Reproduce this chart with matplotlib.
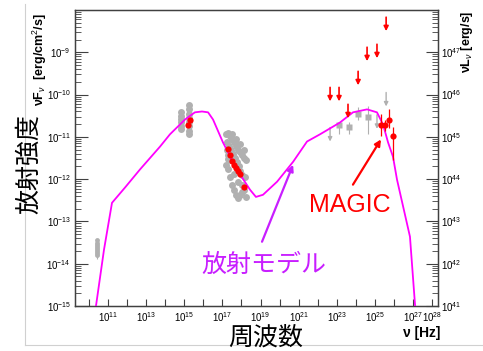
import numpy as np
import matplotlib
matplotlib.use('Agg')
import matplotlib.pyplot as plt
from matplotlib.lines import Line2D

plt.rcParams['font.family'] = ['Liberation Sans', 'Noto Sans CJK JP', 'DejaVu Sans']
plt.rcParams['mathtext.fontset'] = 'custom'
plt.rcParams['mathtext.rm'] = 'Liberation Sans'
plt.rcParams['mathtext.it'] = 'Liberation Sans:italic'
plt.rcParams['mathtext.bf'] = 'Liberation Sans:bold'

# モデル曲線 (log10 nu, log10 nuFnu)
model_lognu = [10.37, 10.79, 11.21, 11.89, 12.68, 13.73, 14.25, 15.04, 15.56, 15.93, 16.25,
               16.51, 17.03, 17.77, 18.45, 18.76, 19.13, 19.87, 20.71, 21.44, 22.12, 23.17,
               23.85, 24.59, 25.11, 25.43, 25.69, 25.95, 26.16, 26.84, 27.11]
model_logF = [-15.0, -13.67, -12.56, -12.20, -11.77, -11.23, -10.94, -10.59, -10.42, -10.40, -10.42,
              -10.59, -11.13, -11.78, -12.25, -12.42, -12.37, -12.06, -11.59, -11.11, -10.94, -10.66,
              -10.42, -10.35, -10.42, -10.71, -11.13, -11.47, -12.01, -13.36, -15.0]

# 灰色の過去データ
radio_lognu = [10.42] * 8
radio_logF = [-13.45, -13.5, -13.55, -13.6, -13.65, -13.7, -13.75, -13.8]
opt_gray_lognu = [14.83] * 6 + [15.25] * 8
opt_gray_logF = [-10.42, -10.5, -10.58, -10.66, -10.74, -10.82,
                 -10.25, -10.35, -10.45, -10.55, -10.65, -10.75, -10.85, -10.93]
xray_gray_lognu = [17.19, 17.30, 17.40, 17.51, 17.61, 17.72, 17.82, 17.93, 18.03, 18.14, 18.24,
                   18.14, 17.93, 17.72, 17.51, 17.19, 17.30, 17.40, 17.51, 17.61, 17.72, 17.82,
                   17.93, 18.03, 18.14, 18.24, 17.40, 17.61, 17.82, 18.03, 17.30, 17.72,
                   17.25, 17.35, 17.45, 17.55, 17.65, 17.75, 17.85, 17.95, 18.05, 18.2, 17.22, 17.28]
xray_gray_logF = [-10.94, -10.90, -10.99, -11.06, -11.13, -11.21, -11.30, -11.35, -11.42, -11.49, -11.54,
                  -11.30, -11.18, -11.06, -10.94, -11.66, -11.77, -11.96, -12.13, -12.25, -12.37, -12.44,
                  -12.37, -12.30, -12.25, -12.42, -11.54, -11.89, -12.06, -12.13, -11.42, -11.66,
                  -11.12, -11.22, -11.32, -11.4, -11.5, -11.6, -11.7, -11.8, -11.9, -11.95, -11.3, -11.52]
fermi_lognu = [23.12, 23.64, 24.12, 24.64]
fermi_logF = [-10.73, -10.76, -10.45, -10.54]
fermi_err_up = [0.09, 0.12, 0.15, 0.26]
fermi_err_dn = [0.21, 0.18, 0.14, 0.40]
fermi_ul_lognu = [22.65, 25.11, 25.59]
fermi_ul_logF = [-10.78, -10.48, -9.95]

# 赤: 同時観測データ
opt_red_lognu = [15.30, 15.20]
opt_red_logF = [-10.59, -10.73]
xray_red_lognu = [17.30, 17.40, 17.51, 17.61, 17.72, 17.82, 17.93, 18.14]
xray_red_logF = [-11.28, -11.44, -11.56, -11.66, -11.73, -11.80, -11.87, -12.18]
ul_red_lognu = [22.65, 23.12, 23.59, 24.12, 24.59, 25.11, 25.59]
ul_red_logF = [-9.83, -9.83, -10.23, -9.45, -8.88, -8.81, -8.17]
magic_lognu = [25.32, 25.53, 25.74, 25.95]
magic_logF = [-10.71, -10.73, -10.61, -10.99]
magic_err_up = [0.24, 0.14, 0.26, 0.23]
magic_err_dn = [0.28, 0.14, 0.17, 0.55]

xtick_exp = list(range(10, 29))
xlabel_exp = [11, 13, 15, 17, 19, 21, 23, 25, 27, 28]
ytick_exp = list(range(-15, -8))
rtick_exp = list(range(41, 48))

gray = '#b0b0b0'
red = '#ff0000'
magenta = '#ff00ff'
purple = '#c81eff'

p = lambda a: 10 ** np.array(a, dtype=float)

fig = plt.figure(figsize=(4.83, 3.51), dpi=100)
ax = fig.add_axes([0.1553, 0.1282, 0.7515, 0.8433])
ax.set_xscale('log')
ax.set_yscale('log')
ax.set_xlim(10 ** 9.27, 10 ** 28.31)
ax.set_ylim(1e-15, 1e-8)

# 灰色データ
ax.plot(p(radio_lognu), p(radio_logF), 'o', color=gray, ms=3.5, mec='none')
ax.errorbar(p(radio_lognu[:1]), p([-13.6]), yerr=[[p(-13.6) - p(-13.9)], [0]], fmt='none',
            ecolor=gray, lw=0.8)
ax.plot(p(opt_gray_lognu), p(opt_gray_logF), 'o', color=gray, ms=5, mec='none')
ax.plot(p(xray_gray_lognu), p(xray_gray_logF), 'o', color=gray, ms=5, mec='none')
fy = p(fermi_logF)
ax.errorbar(p(fermi_lognu), fy,
            yerr=[fy - p(np.array(fermi_logF) - np.array(fermi_err_dn)),
                  p(np.array(fermi_logF) + np.array(fermi_err_up)) - fy],
            fmt='s', color=gray, ms=4, mec='none', ecolor=gray, elinewidth=0.8)
for lx, ly in zip(fermi_ul_lognu, fermi_ul_logF):
    ax.annotate('', xy=(p(lx), p(ly - 0.33)), xytext=(p(lx), p(ly)),
                arrowprops=dict(arrowstyle='-|>', color=gray, lw=1.0, mutation_scale=6,
                                shrinkA=0, shrinkB=0))

# モデル
ax.plot(p(model_lognu), p(model_logF), color=magenta, lw=1.3, zorder=3)

# 赤データ
ax.plot(p(opt_red_lognu), p(opt_red_logF), 'o', color=red, ms=4.5, mec='none', zorder=4)
ax.plot(p(xray_red_lognu), p(xray_red_logF), 'o', color=red, ms=4.5, mec='none', zorder=4)
for lx, ly in zip(ul_red_lognu, ul_red_logF):
    ax.annotate('', xy=(p(lx), p(ly - 0.33)), xytext=(p(lx), p(ly)),
                arrowprops=dict(arrowstyle='-|>', color=red, lw=1.2, mutation_scale=7,
                                shrinkA=0, shrinkB=0))
my = p(magic_logF)
ax.errorbar(p(magic_lognu), my,
            yerr=[my - p(np.array(magic_logF) - np.array(magic_err_dn)),
                  p(np.array(magic_logF) + np.array(magic_err_up)) - my],
            fmt='o', color=red, ms=4.5, mec='none', ecolor=red, elinewidth=0.9, zorder=5)

# 注釈
ax.annotate('', xy=(p(25.32), p(-11.06)), xytext=(p(23.85), p(-12.13)),
            arrowprops=dict(arrowstyle='-|>', color=red, lw=1.6, mutation_scale=9,
                            shrinkA=0, shrinkB=0))
ax.annotate('', xy=(p(20.71), p(-11.66)), xytext=(p(19.08), p(-13.48)),
            arrowprops=dict(arrowstyle='-|>', color=purple, lw=1.6, mutation_scale=9,
                            shrinkA=0, shrinkB=0))
fig.text(0.725, 0.416, 'MAGIC', color=red, fontsize=18, ha='center', va='center')
fig.text(0.547, 0.245, '放射モデル', color=purple, fontsize=18, ha='center', va='center',
         family=['Noto Sans CJK JP'])

# 軸
for s in ax.spines.values():
    s.set_color('#404040')
    s.set_linewidth(1.0)

ax.set_xticks(p(xtick_exp))
ax.set_xticklabels(['$10^{%d}$' % e if e in xlabel_exp else '' for e in xtick_exp])
ax.xaxis.set_minor_locator(plt.NullLocator())
ax.set_yticks(p(ytick_exp))
ax.set_yticklabels(['$10^{%d}$' % e for e in ytick_exp])
ax.yaxis.set_minor_locator(matplotlib.ticker.LogLocator(base=10, subs=np.arange(2, 10)))
ax.yaxis.set_minor_formatter(matplotlib.ticker.NullFormatter())
ax.tick_params(axis='x', which='major', direction='in', length=5, width=0.8, labelsize=7,
               pad=3, colors='#404040', labelcolor='black')
ax.tick_params(axis='y', which='major', direction='in', length=9, width=0.8, labelsize=7,
               pad=3, colors='#404040', labelcolor='black')
ax.tick_params(axis='y', which='minor', direction='in', length=4, width=0.6, colors='#404040')

ax2 = ax.twinx()
ax2.set_yscale('log')
ax2.set_ylim(1e41, 1e48)
ax2.set_yticks(p(rtick_exp))
ax2.set_yticklabels(['$10^{%d}$' % e for e in rtick_exp])
ax2.yaxis.set_minor_locator(matplotlib.ticker.LogLocator(base=10, subs=np.arange(2, 10)))
ax2.yaxis.set_minor_formatter(matplotlib.ticker.NullFormatter())
ax2.tick_params(axis='y', which='major', direction='in', length=9, width=0.8, labelsize=7,
                pad=2, colors='#404040', labelcolor='black')
ax2.tick_params(axis='y', which='minor', direction='in', length=4, width=0.6, colors='#404040')
for s in ax2.spines.values():
    s.set_color('#404040')

# ラベル
fig.text(0.060, 0.533, '放射強度', fontsize=18, rotation=90, ha='center', va='center',
         family=['Noto Sans CJK JP'])
fig.text(0.082, 0.83, 'νF$_{ν}$  [erg/cm$^{2}$/s]', fontsize=9, fontweight='bold', rotation=90,
         ha='center', va='center')
fig.text(0.967, 0.88, 'νL$_{ν}$ [erg/s]', fontsize=9, fontweight='bold', rotation=90,
         ha='center', va='center')
fig.text(0.549, 0.038, '周波数', fontsize=18, ha='center', va='center',
         family=['Noto Sans CJK JP'])
fig.text(0.874, 0.052, 'ν [Hz]', fontsize=10, fontweight='bold', ha='center', va='center')

# 外枠 (薄い灰色)
fig.add_artist(Line2D([0.0518, 0.0518], [0.0171, 0.99], color='#d0d0d0', lw=0.8))
fig.add_artist(Line2D([0.0518, 1.0], [0.0171, 0.0171], color='#d0d0d0', lw=0.8))

fig.savefig('out.png', dpi=100)
